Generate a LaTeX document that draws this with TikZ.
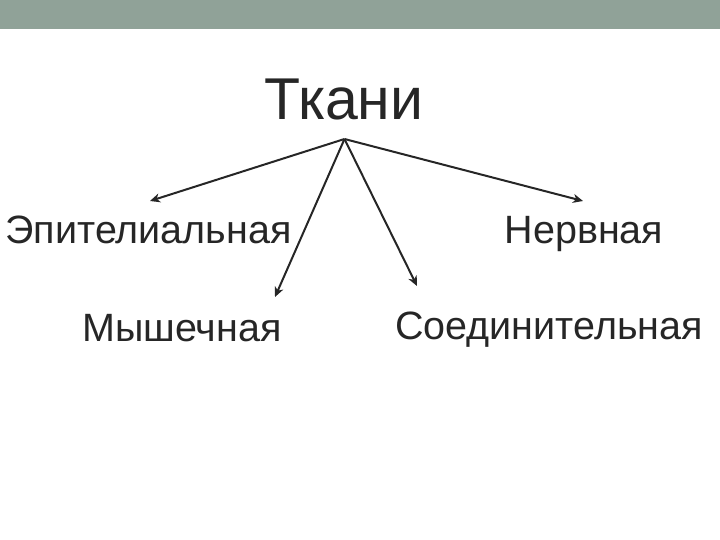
\documentclass[tikz,border=0pt]{standalone}
\usepackage{fontspec}
\setmainfont{Liberation Sans}
\usetikzlibrary{arrows.meta}
\definecolor{barcol}{HTML}{90A298}
\definecolor{txt}{HTML}{262626}
\begin{document}
\begin{tikzpicture}[x=1pt,y=-1pt,
  lbl/.style={inner sep=0pt,anchor=base,text=txt,font=\fontsize{39.5}{44}\selectfont},
  conn/.style={draw=txt,line width=2pt,-{Stealth[length=10pt,width=9pt,inset=3pt]}}]
\useasboundingbox (0,0) rectangle (720,540);
\fill[barcol] (0,0) rectangle (720,29);
\node[inner sep=0pt,anchor=base,text=txt,font=\fontsize{59}{64}\selectfont] (title) at (344,120) {Ткани};
\coordinate (apex) at (344.5,139);
\coordinate (tE) at (150,201);
\coordinate (tM) at (275,297);
\coordinate (tS) at (417,286);
\coordinate (tN) at (583,201);
\node[lbl] (epi) at (148.5,243.3) {Эпителиальная};
\node[lbl] (nerv) at (584,243.3) {Нервная};
\node[lbl] (mysh) at (182,341.7) {Мышечная};
\node[lbl] (soed) at (549,339.3) {Соединительная};
\draw[conn] (apex) -- (tE);
\draw[conn] (apex) -- (tM);
\draw[conn] (apex) -- (tS);
\draw[conn] (apex) -- (tN);
\end{tikzpicture}
\end{document}
